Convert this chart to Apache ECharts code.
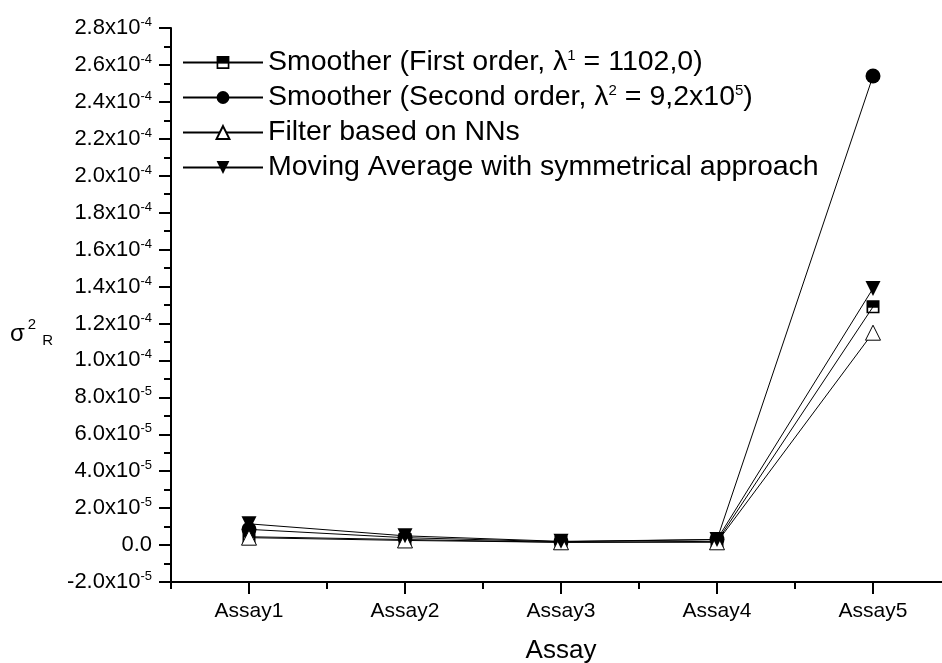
<!DOCTYPE html>
<html>
<head>
<meta charset="utf-8">
<script src="https://cdn.jsdelivr.net/npm/echarts@6/dist/echarts.min.js"></script>
<style>
html,body{margin:0;padding:0;background:#fff;}
#chart{width:942px;height:663px;}
</style>
</head>
<body>
<div id="chart"></div>
<script>
const categories = ['Assay1', 'Assay2', 'Assay3', 'Assay4', 'Assay5'];
const seriesNames = [
  'Smoother (First order, λ1 = 1102,0)',
  'Smoother (Second order, λ2 = 9,2x105)',
  'Filter based on NNs',
  'Moving Average with symmetrical approach'
];
const firstOrder  = [4.5e-6, 3.0e-6, 1.5e-6, 2.0e-6, 1.29e-4];
const secondOrder = [8.5e-6, 4.0e-6, 1.8e-6, 3.0e-6, 2.54e-4];
const nnFilter    = [4.0e-6, 2.5e-6, 1.5e-6, 1.5e-6, 1.15e-4];
const movingAvg   = [1.15e-5, 5.0e-6, 2.0e-6, 3.0e-6, 1.39e-4];
const yTickLabels = ['-2.0x10^-5', '0.0', '2.0x10^-5', '4.0x10^-5', '6.0x10^-5', '8.0x10^-5',
  '1.0x10^-4', '1.2x10^-4', '1.4x10^-4', '1.6x10^-4', '1.8x10^-4', '2.0x10^-4',
  '2.2x10^-4', '2.4x10^-4', '2.6x10^-4', '2.8x10^-4'];
const yMin = -2e-5, yMax = 2.8e-4, yStep = 2e-5;

const legendRich = {
  'Smoother (First order, λ1 = 1102,0)': '{t|Smoother (First order, λ}{s|1}{t| = 1102,0)}',
  'Smoother (Second order, λ2 = 9,2x105)': '{t|Smoother (Second order, λ}{s|2}{t| = 9,2x10}{s|5}{t|)}',
  'Filter based on NNs': '{t|Filter based on NNs}',
  'Moving Average with symmetrical approach': '{t|Moving Average with symmetrical approach}'
};

const FONT = '"Liberation Sans", Arial, sans-serif';
const halfSquare = 'path://M0,0 L10,0 L10,10 L0,10 Z M1.3,5.6 L1.3,8.7 L8.7,8.7 L8.7,5.6 Z';
const downTri = 'path://M0,0 L10,0 L5,9 Z';

const chart = echarts.init(document.getElementById('chart'), null, {renderer: 'canvas'});

function mk(name, data, symbol, size, color, border) {
  return {
    name: name,
    type: 'line',
    data: data,
    symbol: symbol,
    symbolSize: size,
    showAllSymbol: true,
    xAxisIndex: 0,
    lineStyle: {color: '#000', width: 1},
    itemStyle: {color: color, borderColor: '#000', borderWidth: border},
    emphasis: {disabled: true},
    animation: false
  };
}

chart.setOption({
  backgroundColor: '#fff',
  animation: false,
  grid: {left: 171, top: 28, width: 780, bottom: 81, containLabel: false, outerBoundsMode: 'none'},
  legend: {
    orient: 'vertical',
    left: 182,
    top: 48,
    padding: 0,
    itemWidth: 80,
    itemHeight: 16,
    itemGap: 6,
    data: seriesNames,
    formatter: function (n) { return legendRich[n]; },
    textStyle: {
      padding: [0, 0, 0, 0],
      rich: {
        t: {fontFamily: FONT, fontSize: 28.5, color: '#000', lineHeight: 28.5},
        s: {fontFamily: FONT, fontSize: 15, color: '#000', verticalAlign: 'top', lineHeight: 14}
      }
    },
    itemStyle: {borderColor: '#000'},
    selectedMode: false
  },
  xAxis: [{
    type: 'category',
    data: categories,
    boundaryGap: true,
    name: 'Assay',
    nameLocation: 'middle',
    nameGap: 56,
    nameTextStyle: {fontFamily: FONT, fontSize: 26, color: '#000'},
    axisLine: {onZero: false, lineStyle: {color: '#000', width: 2}},
    axisTick: {show: true, alignWithLabel: true, length: 12, lineStyle: {color: '#000', width: 2}},
    axisLabel: {fontFamily: FONT, fontSize: 21, color: '#000', margin: 19},
    splitLine: {show: false}
  }, {
    type: 'category',
    data: categories,
    boundaryGap: true,
    position: 'bottom',
    axisLine: {show: false, onZero: false},
    axisTick: {show: true, alignWithLabel: false, length: 7, lineStyle: {color: '#000', width: 2}},
    axisLabel: {show: false},
    splitLine: {show: false}
  }],
  yAxis: {
    type: 'value',
    min: yMin,
    max: yMax,
    interval: yStep,
    name: '{s|σ}{p|2}{b|R}',
    nameLocation: 'middle',
    nameRotate: 0,
    nameGap: 118,
    nameTextStyle: {
      padding: [58, 0, 0, 0],
      rich: {
        s: {fontFamily: FONT, fontSize: 24, color: '#000', lineHeight: 34},
        p: {fontFamily: FONT, fontSize: 15, color: '#000', verticalAlign: 'top', padding: [0, 0, 0, 3]},
        b: {fontFamily: FONT, fontSize: 15, color: '#000', verticalAlign: 'bottom', padding: [0, 0, 3, 6]}
      }
    },
    axisLine: {show: true, onZero: false, lineStyle: {color: '#000', width: 2}},
    axisTick: {show: true, length: 12, lineStyle: {color: '#000', width: 2}},
    minorTick: {show: true, splitNumber: 2, length: 7, lineStyle: {color: '#000', width: 2}},
    splitLine: {show: false},
    minorSplitLine: {show: false},
    axisLabel: {
      margin: 19,
      formatter: function (v) {
        const idx = Math.round((v - yMin) / yStep);
        const lab = yTickLabels[idx] || '';
        const parts = lab.split('^');
        if (parts.length === 1) return '{m|' + parts[0] + '}';
        return '{m|' + parts[0] + '}{e|' + parts[1] + '}';
      },
      rich: {
        m: {fontFamily: FONT, fontSize: 22, color: '#000', lineHeight: 24},
        e: {fontFamily: FONT, fontSize: 13, color: '#000', verticalAlign: 'top', lineHeight: 13}
      }
    }
  },
  series: [
    mk(seriesNames[0], firstOrder, halfSquare, 13, '#000', 0),
    mk(seriesNames[1], secondOrder, 'circle', 15, '#000', 0),
    mk(seriesNames[2], nnFilter, 'triangle', 15, '#fff', 1),
    mk(seriesNames[3], movingAvg, downTri, 15, '#000', 0)
  ]
});
</script>
</body>
</html>
